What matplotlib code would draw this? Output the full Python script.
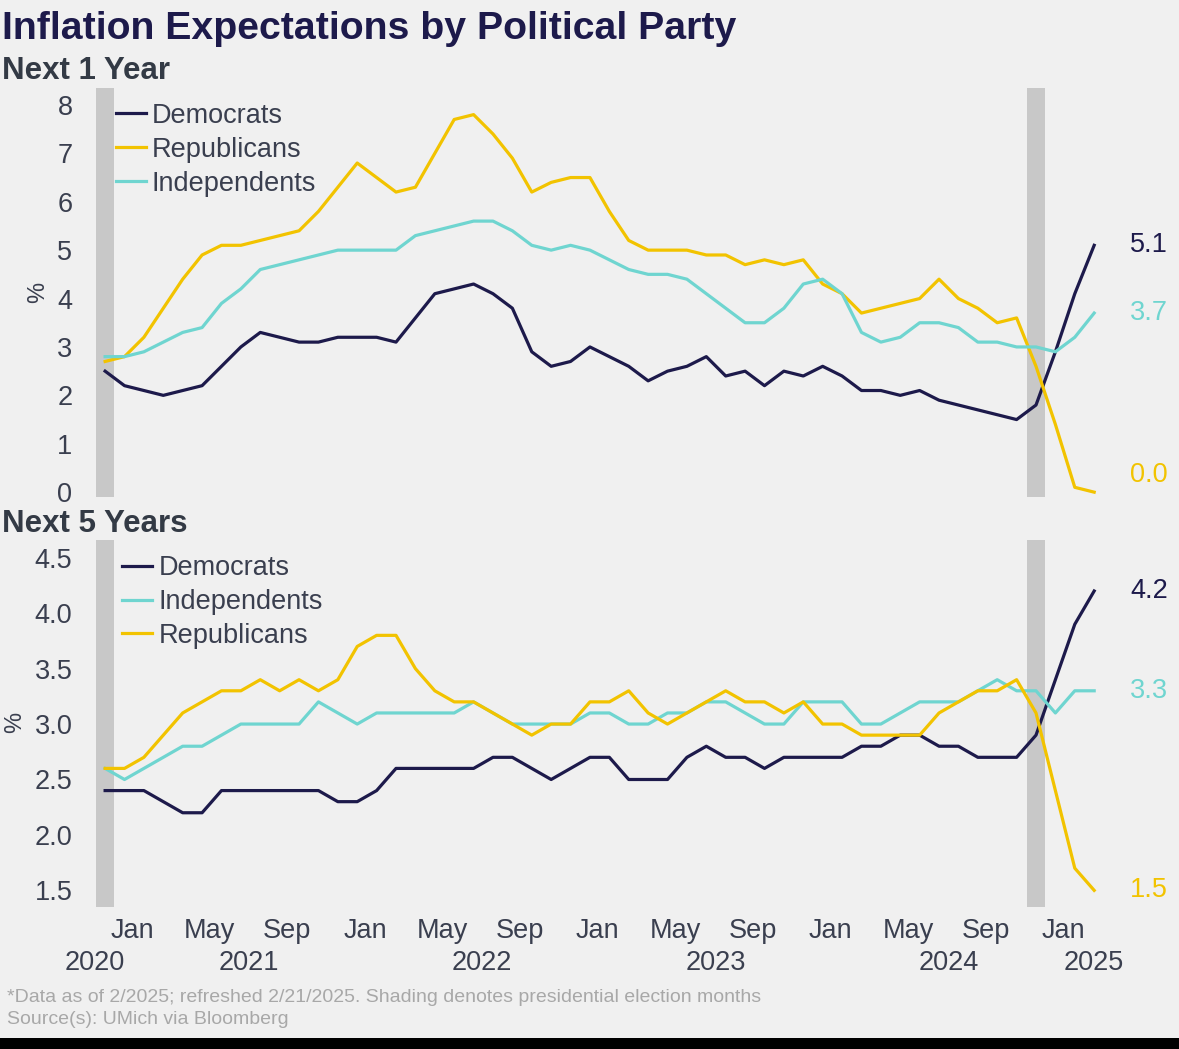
import numpy as np
import pandas as pd
import matplotlib
matplotlib.use("Agg")
import matplotlib.pyplot as plt
from matplotlib.patches import Rectangle
import matplotlib.transforms as mtransforms

plt.rcParams['font.family'] = ['Liberation Sans', 'DejaVu Sans']

# monthly survey points, Nov 2020 .. Feb 2025
months = pd.period_range('2020-11', '2025-02', freq='M')

one_dem = [2.5, 2.2, 2.1, 2.0, 2.1, 2.2, 2.6, 3.0, 3.3, 3.2, 3.1, 3.1, 3.2, 3.2, 3.2, 3.1,
           3.6, 4.1, 4.2, 4.3, 4.1, 3.8, 2.9, 2.6, 2.7, 3.0, 2.8, 2.6, 2.3, 2.5, 2.6, 2.8,
           2.4, 2.5, 2.2, 2.5, 2.4, 2.6, 2.4, 2.1, 2.1, 2.0, 2.1, 1.9, 1.8, 1.7, 1.6, 1.5,
           1.8, 2.9, 4.1, 5.1]
one_rep = [2.7, 2.8, 3.2, 3.8, 4.4, 4.9, 5.1, 5.1, 5.2, 5.3, 5.4, 5.8, 6.3, 6.8, 6.5, 6.2,
           6.3, 7.0, 7.7, 7.8, 7.4, 6.9, 6.2, 6.4, 6.5, 6.5, 5.8, 5.2, 5.0, 5.0, 5.0, 4.9,
           4.9, 4.7, 4.8, 4.7, 4.8, 4.3, 4.1, 3.7, 3.8, 3.9, 4.0, 4.4, 4.0, 3.8, 3.5, 3.6,
           2.6, 1.4, 0.1, 0.0]
one_ind = [2.8, 2.8, 2.9, 3.1, 3.3, 3.4, 3.9, 4.2, 4.6, 4.7, 4.8, 4.9, 5.0, 5.0, 5.0, 5.0,
           5.3, 5.4, 5.5, 5.6, 5.6, 5.4, 5.1, 5.0, 5.1, 5.0, 4.8, 4.6, 4.5, 4.5, 4.4, 4.1,
           3.8, 3.5, 3.5, 3.8, 4.3, 4.4, 4.1, 3.3, 3.1, 3.2, 3.5, 3.5, 3.4, 3.1, 3.1, 3.0,
           3.0, 2.9, 3.2, 3.7]

five_dem = [2.4, 2.4, 2.4, 2.3, 2.2, 2.2, 2.4, 2.4, 2.4, 2.4, 2.4, 2.4, 2.3, 2.3, 2.4, 2.6,
            2.6, 2.6, 2.6, 2.6, 2.7, 2.7, 2.6, 2.5, 2.6, 2.7, 2.7, 2.5, 2.5, 2.5, 2.7, 2.8,
            2.7, 2.7, 2.6, 2.7, 2.7, 2.7, 2.7, 2.8, 2.8, 2.9, 2.9, 2.8, 2.8, 2.7, 2.7, 2.7,
            2.9, 3.4, 3.9, 4.2]
five_ind = [2.6, 2.5, 2.6, 2.7, 2.8, 2.8, 2.9, 3.0, 3.0, 3.0, 3.0, 3.2, 3.1, 3.0, 3.1, 3.1,
            3.1, 3.1, 3.1, 3.2, 3.1, 3.0, 3.0, 3.0, 3.0, 3.1, 3.1, 3.0, 3.0, 3.1, 3.1, 3.2,
            3.2, 3.1, 3.0, 3.0, 3.2, 3.2, 3.2, 3.0, 3.0, 3.1, 3.2, 3.2, 3.2, 3.3, 3.4, 3.3,
            3.3, 3.1, 3.3, 3.3]
five_rep = [2.6, 2.6, 2.7, 2.9, 3.1, 3.2, 3.3, 3.3, 3.4, 3.3, 3.4, 3.3, 3.4, 3.7, 3.8, 3.8,
            3.5, 3.3, 3.2, 3.2, 3.1, 3.0, 2.9, 3.0, 3.0, 3.2, 3.2, 3.3, 3.1, 3.0, 3.1, 3.2,
            3.3, 3.2, 3.2, 3.1, 3.2, 3.0, 3.0, 2.9, 2.9, 2.9, 2.9, 3.1, 3.2, 3.3, 3.3, 3.4,
            3.1, 2.4, 1.7, 1.5]

election_months = ['2020-11', '2024-11']
tick_months = ['2021-01', '2021-05', '2021-09', '2022-01', '2022-05', '2022-09',
               '2023-01', '2023-05', '2023-09', '2024-01', '2024-05', '2024-09', '2025-01']
years = ['2020', '2021', '2022', '2023', '2024', '2025']
year_pos = [-0.55, 7.4, 19.4, 31.5, 43.5, 51.0]

NAVY = '#1d1a4b'
GOLD = '#f2c300'
TEAL = '#6fd5d0'
BG = '#f0f0f0'
TXT = '#3a3f4f'
FS = 19.5

x = np.arange(len(months))
month_idx = {str(m): i for i, m in enumerate(months)}

fig = plt.figure(figsize=(11.79, 10.49), dpi=100, facecolor=BG)
W, H = 1179, 1049


def make_ax(top_px, bot_px):
    left = 96 / W
    width = 1004 / W
    return fig.add_axes([left, 1 - bot_px / H, width, (bot_px - top_px) / H])


ax1 = make_ax(88, 497)
ax2 = make_ax(540, 907)

for ax in (ax1, ax2):
    ax.set_facecolor(BG)
    for s in ax.spines.values():
        s.set_visible(False)
    ax.set_xlim(-0.47, 51.3)
    ax.tick_params(length=0, labelsize=FS, labelcolor=TXT, pad=17)
    for m in election_months:
        i = month_idx[m]
        ax.axvspan(i - 0.47, i + 0.47, color='#c8c8c8', lw=0, zorder=0)

# top panel
ax1.set_ylim(-0.1, 8.35)
ax1.set_yticks(range(0, 9))
ax1.set_xticks([])
l_d, = ax1.plot(x, one_dem, color=NAVY, lw=2.3, label='Democrats')
l_r, = ax1.plot(x, one_rep, color=GOLD, lw=2.3, label='Republicans')
l_i, = ax1.plot(x, one_ind, color=TEAL, lw=2.3, label='Independents')
ax1.legend(handles=[l_d, l_r, l_i], loc='upper left', bbox_to_anchor=(0.02, 0.964),
           frameon=False, fontsize=FS, handlelength=1.1, handletextpad=0.2,
           labelspacing=0.3, borderpad=0, borderaxespad=0, labelcolor=TXT)
for vals, c in [(one_dem, NAVY), (one_ind, TEAL), (one_rep, GOLD)]:
    ax1.text(52.85, max(vals[-1], 0.35), f'{vals[-1]:.1f}', color=c, fontsize=FS,
             va='center', ha='left')

# bottom panel
ax2.set_ylim(1.35, 4.66)
ax2.set_yticks(np.arange(1.5, 4.51, 0.5))
ax2.set_yticklabels([f'{v:.1f}' for v in np.arange(1.5, 4.51, 0.5)])
b_d, = ax2.plot(x, five_dem, color=NAVY, lw=2.3, label='Democrats')
b_i, = ax2.plot(x, five_ind, color=TEAL, lw=2.3, label='Independents')
b_r, = ax2.plot(x, five_rep, color=GOLD, lw=2.3, label='Republicans')
ax2.legend(handles=[b_d, b_i, b_r], loc='upper left', bbox_to_anchor=(0.026, 0.958),
           frameon=False, fontsize=FS, handlelength=1.1, handletextpad=0.25,
           labelspacing=0.28, borderpad=0, borderaxespad=0, labelcolor=TXT)
for vals, c in [(five_dem, NAVY), (five_ind, TEAL), (five_rep, GOLD)]:
    ax2.text(52.85, vals[-1], f'{vals[-1]:.1f}', color=c, fontsize=FS,
             va='center', ha='left')

ax2.set_xticks([month_idx[m] - 0.6 for m in tick_months])
ax2.set_xticklabels([pd.Period(m).strftime('%b') for m in tick_months])
ax2.tick_params(axis='x', pad=8)
trans = mtransforms.blended_transform_factory(ax2.transData, ax2.transAxes)
for yr, p in zip(years, year_pos):
    ax2.text(p, -0.153, yr, transform=trans, ha='center', va='center',
             fontsize=FS, color=TXT)

# titles and notes
fig.text(2 / W, 1 - 29 / H, 'Inflation Expectations by Political Party', fontsize=28.3,
         fontweight='bold', color=NAVY, va='center', ha='left')
fig.text(2 / W, 1 - 71 / H, 'Next 1 Year', fontsize=22.5, fontweight='bold', color='#333a45',
         va='center', ha='left')
fig.text(2 / W, 1 - 524 / H, 'Next 5 Years', fontsize=22.5, fontweight='bold', color='#333a45',
         va='center', ha='left')
fig.text(38 / W, 1 - 292 / H, '%', rotation=90, fontsize=17, color=TXT, va='center', ha='center')
fig.text(15 / W, 1 - 722 / H, '%', rotation=90, fontsize=17, color=TXT, va='center', ha='center')
fig.text(7 / W, 1 - 997 / H,
         '*Data as of 2/2025; refreshed 2/21/2025. Shading denotes presidential election months',
         fontsize=14, color='#a8a8a8', va='center', ha='left')
fig.text(7 / W, 1 - 1019 / H, 'Source(s): UMich via Bloomberg', fontsize=14, color='#a8a8a8',
         va='center', ha='left')

fig.patches.append(Rectangle((0, 0), 1, 11 / H, transform=fig.transFigure,
                             facecolor='black', edgecolor='none'))

fig.savefig('out.png', dpi=100, facecolor=BG)
